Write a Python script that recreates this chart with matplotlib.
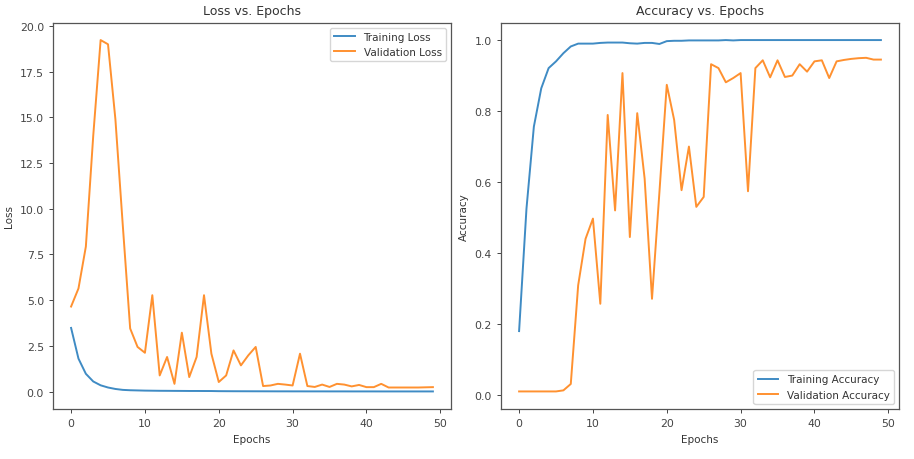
import matplotlib
matplotlib.use("Agg")
import matplotlib.pyplot as plt
import numpy as np

epochs = list(range(50))

train_loss = [3.48, 1.80, 0.97, 0.55, 0.34, 0.22, 0.14, 0.09, 0.07, 0.06,
              0.05, 0.045, 0.04, 0.038, 0.035, 0.033, 0.03, 0.03, 0.028, 0.027,
              0.02, 0.018, 0.016, 0.015, 0.014, 0.013, 0.012, 0.011, 0.01, 0.01,
              0.009, 0.009, 0.008, 0.008, 0.008, 0.007, 0.007, 0.007, 0.006, 0.006,
              0.006, 0.006, 0.005, 0.005, 0.005, 0.005, 0.005, 0.005, 0.005, 0.005]
val_loss = [4.65, 5.64, 7.93, 14.0, 19.23, 19.0, 14.9, 9.1, 3.45, 2.44,
            2.12, 5.27, 0.88, 1.89, 0.42, 3.22, 0.79, 1.89, 5.27, 2.07,
            0.52, 0.88, 2.25, 1.43, 1.98, 2.44, 0.30, 0.33, 0.42, 0.38,
            0.33, 2.07, 0.30, 0.25, 0.38, 0.25, 0.42, 0.38, 0.28, 0.36,
            0.24, 0.24, 0.42, 0.22, 0.22, 0.22, 0.22, 0.22, 0.23, 0.24]

train_acc = [0.18, 0.525, 0.756, 0.864, 0.921, 0.94, 0.963, 0.982, 0.99, 0.99,
             0.99, 0.992, 0.993, 0.993, 0.993, 0.991, 0.99, 0.992, 0.992, 0.989,
             0.997, 0.998, 0.998, 0.999, 0.999, 0.999, 0.999, 0.999, 1.0, 0.999,
             1.0, 1.0, 1.0, 1.0, 1.0, 1.0, 1.0, 1.0, 1.0, 1.0,
             1.0, 1.0, 1.0, 1.0, 1.0, 1.0, 1.0, 1.0, 1.0, 1.0]
val_acc = [0.01, 0.01, 0.01, 0.01, 0.01, 0.01, 0.013, 0.031, 0.309, 0.44,
           0.497, 0.257, 0.789, 0.52, 0.907, 0.445, 0.794, 0.61, 0.271, 0.57,
           0.874, 0.775, 0.577, 0.70, 0.53, 0.558, 0.932, 0.921, 0.881, 0.893,
           0.907, 0.574, 0.921, 0.943, 0.895, 0.943, 0.896, 0.90, 0.932, 0.911,
           0.94, 0.943, 0.893, 0.94, 0.944, 0.947, 0.949, 0.95, 0.945, 0.945]

plt.rcParams['font.family'] = ['DejaVu Sans']
fig = plt.figure(figsize=(9.14, 4.6), dpi=100)
W, H = 914, 460
ax1 = fig.add_axes([53 / W, 1 - 410 / H, (451 - 53) / W, (410 - 23.5) / H])
ax2 = fig.add_axes([501 / W, 1 - 410 / H, (899 - 501) / W, (410 - 23.5) / H])

lw = 1.4
blue = '#3f8bc4'
orange = '#ff9130'
ax1.plot(epochs, train_loss, color=blue, lw=lw, label='Training Loss')
ax1.plot(epochs, val_loss, color=orange, lw=lw, label='Validation Loss')
ax1.set_title('Loss vs. Epochs', fontsize=9, color='#333333')
ax1.set_xlabel('Epochs', fontsize=7.5, color='#333333')
ax1.set_ylabel('Loss', fontsize=7.5, color='#333333')
ax1.legend(loc='upper right', fontsize=7.5)

ax2.plot(epochs, train_acc, color=blue, lw=lw, label='Training Accuracy')
ax2.plot(epochs, val_acc, color=orange, lw=lw, label='Validation Accuracy')
ax2.set_title('Accuracy vs. Epochs', fontsize=9, color='#333333')
ax2.set_xlabel('Epochs', fontsize=7.5, color='#333333')
ax2.set_ylabel('Accuracy', fontsize=7.5, color='#333333')
ax2.legend(loc='lower right', fontsize=7.5)

for ax in (ax1, ax2):
    ax.tick_params(labelsize=7.8, length=3, width=0.7, colors='#444444')
    for s in ax.spines.values():
        s.set_color('#555555')
        s.set_linewidth(0.9)
    leg = ax.get_legend()
    for t in leg.get_texts():
        t.set_color('#333333')

fig.savefig('out.png', dpi=100)
